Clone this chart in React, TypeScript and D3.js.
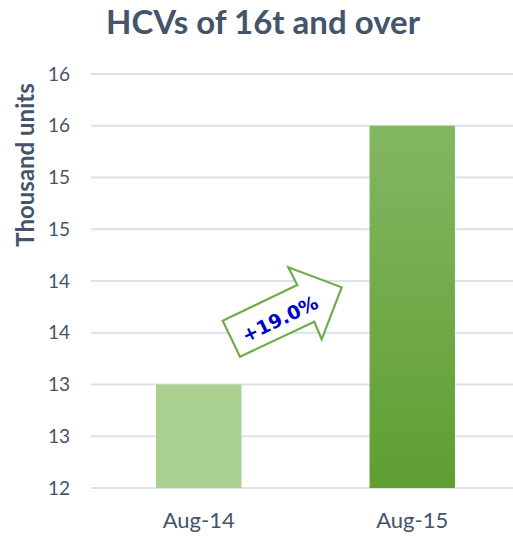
import { useRef, useEffect } from 'react';
import * as d3 from 'd3';

const categories = ['Aug-14', 'Aug-15'];
const values = [13.0, 15.5];
const tickValues = [12, 12.5, 13, 13.5, 14, 14.5, 15, 15.5, 16];
const tickLabels = ['12', '13', '13', '14', '14', '15', '15', '16', '16'];
const changeLabel = '+19.0%';

const W = 513;
const H = 538;
const ink = '#44546a';

export default function App() {
  const svgRef = useRef<SVGSVGElement>(null);

  useEffect(() => {
    document.body.style.margin = '0';
    const svg = d3.select(svgRef.current);
    svg.selectAll('*').remove();

    const x = d3.scaleBand().domain(categories).range([92, 519]).paddingInner(0.6).paddingOuter(0.3);
    const y = d3.scaleLinear().domain([12, 16]).range([488, 74]);

    const defs = svg.append('defs');
    const grad = defs.append('linearGradient').attr('id', 'g2').attr('x1', 0).attr('y1', 0).attr('x2', 0).attr('y2', 1);
    grad.append('stop').attr('offset', '0%').attr('stop-color', '#83b762');
    grad.append('stop').attr('offset', '100%').attr('stop-color', '#5f9e31');

    // title
    svg.append('text').attr('x', 263).attr('y', 34).attr('text-anchor', 'middle')
      .attr('fill', ink).attr('font-family', 'Lato').attr('font-weight', 'bold').attr('font-size', '33px')
      .text('HCVs of 16t and over');

    // grid + ticks
    tickValues.forEach((t, i) => {
      svg.append('line').attr('x1', 91).attr('x2', W).attr('y1', y(t)).attr('y2', y(t))
        .attr('stroke', '#dde1e8').attr('stroke-width', 2);
      svg.append('text').attr('x', 70).attr('y', y(t)).attr('dy', '0.35em').attr('text-anchor', 'end')
        .attr('fill', ink).attr('font-family', 'Lato').attr('font-size', '19px')
        .text(tickLabels[i]);
    });

    // axis title
    svg.append('text').attr('transform', `translate(34,165) rotate(-90)`).attr('text-anchor', 'middle')
      .attr('fill', ink).attr('font-family', 'Lato').attr('font-weight', 'bold').attr('font-size', '24px')
      .text('Thousand units');

    // bars
    svg.selectAll('rect.bar').data(values).enter().append('rect')
      .attr('class', 'bar')
      .attr('x', (_, i) => x(categories[i])!)
      .attr('width', x.bandwidth())
      .attr('y', d => y(d))
      .attr('height', d => y(12) - y(d))
      .attr('fill', (_, i) => (i === 0 ? '#a9d08e' : 'url(#g2)'));

    // x labels
    categories.forEach(c => {
      svg.append('text').attr('x', x(c)! + x.bandwidth() / 2).attr('y', 528).attr('text-anchor', 'middle')
        .attr('fill', ink).attr('font-family', 'Lato').attr('font-size', '22px')
        .text(c);
    });

    // growth arrow
    const arrow = [[222.7, 320.7], [297.3, 285], [288.3, 267.3], [341.7, 287.3], [321.7, 339.3], [314.3, 321.7], [240, 356.7]];
    svg.append('polygon').attr('points', arrow.map(p => p.join(',')).join(' '))
      .attr('fill', '#fff').attr('stroke', '#70ad47').attr('stroke-width', 2.2).attr('stroke-linejoin', 'miter');
    svg.append('text').attr('transform', 'translate(280,319) rotate(-25.5)').attr('text-anchor', 'middle')
      .attr('dy', '0.35em').attr('fill', '#0000c8').attr('font-family', 'DejaVu Sans').attr('font-weight', 'bold')
      .attr('font-size', '19px').text(changeLabel);
  }, []);

  return <svg ref={svgRef} width={W} height={H} style={{ display: 'block', background: '#fff' }} />;
}
